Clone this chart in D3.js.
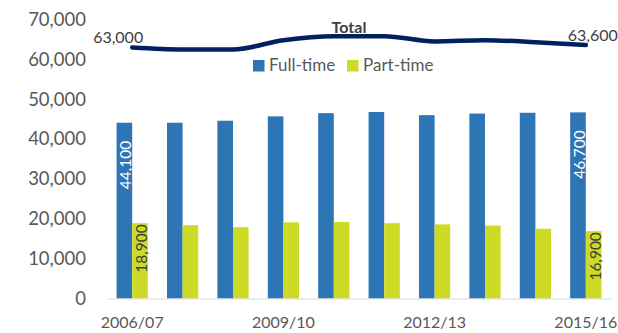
<!DOCTYPE html>
<html>
<head>
<meta charset="utf-8">
<script src="https://cdn.jsdelivr.net/npm/d3@7"></script>
<style>
  html, body { margin: 0; padding: 0; background: #fff; }
  svg { display: block; font-family: Lato, "Open Sans", sans-serif; }
</style>
</head>
<body>
<svg id="chart" width="618" height="333"></svg>
<script>
// Academic years
const years = ["2006/07", "2007/08", "2008/09", "2009/10", "2010/11",
               "2011/12", "2012/13", "2013/14", "2014/15", "2015/16"];
// Enrolments by mode of study
const fullTime = [44100, 44100, 44600, 45700, 46500, 46800, 46000, 46400, 46600, 46700];
const partTime = [18900, 18400, 17900, 19100, 19200, 18900, 18600, 18300, 17500, 16900];
const total    = [63000, 62500, 62500, 64800, 65800, 65800, 64500, 64800, 64300, 63600];
// Axis ticks
const yTicks = [0, 10000, 20000, 30000, 40000, 50000, 60000, 70000];
const xTickLabels = ["2006/07", "2009/10", "2012/13", "2015/16"];

const series = [
  { key: "Full-time", values: fullTime, color: "#2E75B6", labelColor: "#ffffff" },
  { key: "Part-time", values: partTime, color: "#CEDB26", labelColor: "#404040" }
];

const svg = d3.select("#chart");
const fmt = d3.format(",");

const y = d3.scaleLinear().domain([0, 70000]).range([298.5, 19.5]);
const x0 = d3.scaleBand().domain(years).range([107, 611])
  .paddingInner(0.38).paddingOuter(0.19);
const x1 = d3.scaleBand().domain(series.map(s => s.key)).range([0, x0.bandwidth()]);

// Y axis labels (no axis line, no gridlines)
const yAxis = d3.axisLeft(y).tickValues(yTicks).tickFormat(fmt).tickSize(0).tickPadding(0);
const gy = svg.append("g").attr("transform", "translate(86,0)").call(yAxis);
gy.select(".domain").remove();
gy.selectAll("text")
  .attr("fill", "#595959").attr("font-size", "18.5px")
  .attr("font-family", "Lato, sans-serif");

// Bars
series.forEach(s => {
  svg.append("g").selectAll("rect")
    .data(years.map((yr, i) => ({ yr, v: s.values[i] })))
    .join("rect")
    .attr("x", d => x0(d.yr) + x1(s.key))
    .attr("y", d => y(d.v))
    .attr("width", x1.bandwidth())
    .attr("height", d => y(0) - y(d.v))
    .attr("fill", s.color);
});

// X axis baseline and labels
const xAxis = d3.axisBottom(x0)
  .tickValues(xTickLabels).tickSize(0).tickPadding(18);
const gx = svg.append("g").attr("transform", `translate(0,${y(0)})`).call(xAxis);
gx.select(".domain").attr("stroke", "#d9d9d9").attr("stroke-width", 1.2);
gx.selectAll("text")
  .attr("fill", "#595959").attr("font-size", "16px")
  .attr("font-family", "Lato, sans-serif");

// Data labels on first and last bars
const labelIdx = [0, years.length - 1];
series.forEach((s, si) => {
  labelIdx.forEach(i => {
    const cx = x0(years[i]) + x1(s.key) + x1.bandwidth() / 2;
    const top = y(s.values[i]) + (si === 0 ? 18 : 1);
    svg.append("text")
      .attr("transform", `translate(${cx + 1},${top}) rotate(-90)`)
      .attr("text-anchor", "end")
      .attr("dominant-baseline", "central")
      .attr("fill", s.labelColor)
      .attr("font-size", "15.5px")
      .text(fmt(s.values[i]));
  });
});

// Total line
const cx = d => x0(d) + x0.bandwidth() / 2;
const line = d3.line()
  .x((d, i) => cx(years[i]))
  .y(d => y(d))
  .curve(d3.curveMonotoneX);
svg.append("path")
  .datum(total)
  .attr("d", line)
  .attr("fill", "none")
  .attr("stroke", "#002060")
  .attr("stroke-width", 4.5)
  .attr("stroke-linecap", "round")
  .attr("stroke-linejoin", "round");

// Total line labels
const first = 0, last = total.length - 1;
svg.append("text")
  .attr("x", cx(years[first]) + 11).attr("y", y(total[first]) - 4)
  .attr("text-anchor", "end").attr("fill", "#404040").attr("font-size", "16px")
  .text(fmt(total[first]));
svg.append("text")
  .attr("x", cx(years[last]) - 18).attr("y", y(total[last]) - 4)
  .attr("text-anchor", "start").attr("fill", "#404040").attr("font-size", "16px")
  .text(fmt(total[last]));

svg.append("text")
  .attr("x", 349).attr("y", 33)
  .attr("text-anchor", "middle").attr("fill", "#404040")
  .attr("font-size", "16px").attr("font-weight", "bold")
  .text("Total");

// Legend
const legend = svg.append("g").attr("transform", "translate(253,60)");
const legendX = [0, 94];
series.forEach((s, i) => {
  const g = legend.append("g").attr("transform", `translate(${legendX[i]},0)`);
  g.append("rect").attr("width", 11.5).attr("height", 11.5).attr("fill", s.color);
  g.append("text").attr("x", 16).attr("y", 11)
    .attr("fill", "#595959").attr("font-size", "17px").text(s.key);
});
</script>
</body>
</html>
